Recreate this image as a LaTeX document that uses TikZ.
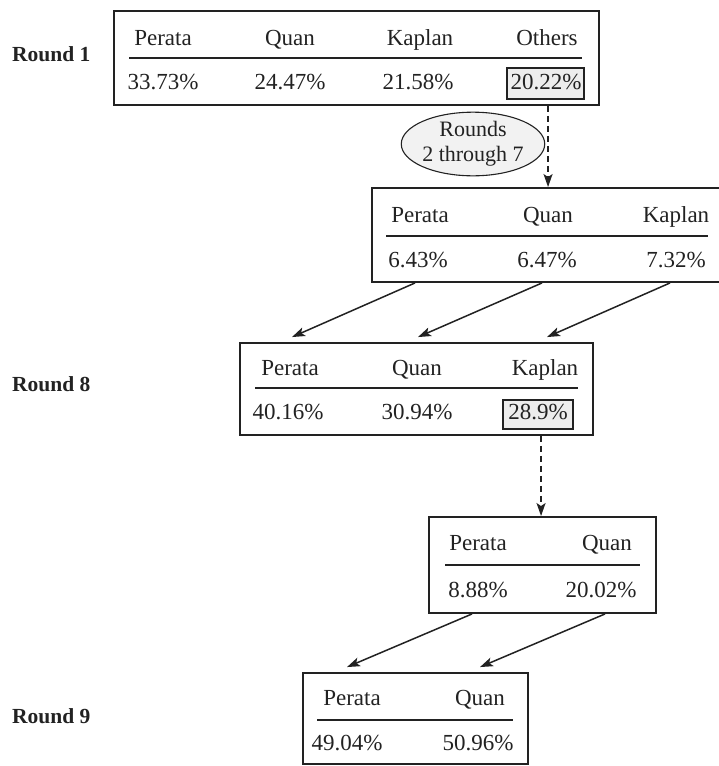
\documentclass[tikz,border=0pt]{standalone}
\usepackage{fontspec}
\setmainfont{Liberation Serif}
\usetikzlibrary{arrows.meta,shapes.geometric,calc}
\definecolor{ink}{HTML}{222222}
\tikzset{
  tbox/.style={draw=ink,line width=1.9pt,rectangle,inner sep=0pt},
  hdr/.style={draw=ink,line width=1.5pt},
  txt/.style={anchor=base,inner sep=0pt,font=\fontsize{23}{26}\selectfont,text=ink},
  rlabel/.style={anchor=base west,inner sep=0pt,font=\fontsize{21.5}{24}\selectfont\bfseries,text=ink},
  hl/.style={draw=ink,line width=1.3pt,fill=gray!14,rectangle,inner sep=0pt},
  arr/.style={draw=ink,line width=1.5pt,-{Stealth[length=13pt,width=9pt,inset=3pt]}},
  darr/.style={arr,dash pattern=on 6pt off 4pt},
  oval/.style={draw=ink,line width=1.1pt,ellipse,fill=gray!10,inner sep=0pt,
    minimum width=120pt,minimum height=62pt,align=center,
    font=\fontsize{22}{25}\selectfont,text=ink}
}
\begin{document}
\begin{tikzpicture}[x=1pt,y=-1pt]
\useasboundingbox (0,0) rectangle (719,766);
% boxes
\node[tbox,minimum width=485pt,minimum height=94pt] (b1) at (356.5,58) {};
\node[tbox,minimum width=378pt,minimum height=94pt] (b2) at (561,235) {};
\node[tbox,minimum width=353pt,minimum height=92pt] (b3) at (416.5,389) {};
\node[tbox,minimum width=227pt,minimum height=96pt] (b4) at (542.5,565) {};
\node[tbox,minimum width=225pt,minimum height=91pt] (b5) at (415.5,718.5) {};
% highlight boxes
\node[hl,minimum width=77pt,minimum height=31pt] (h1) at (545.5,83.5) {};
\node[hl,minimum width=70pt,minimum height=29pt] (h3) at (538,414.5) {};
% header rules
\draw[hdr] (129,58) -- (582,58);
\draw[hdr] (386,236) -- (708,236);
\draw[hdr] (255,388) -- (578,388);
\draw[hdr] (445,565) -- (640,565);
\draw[hdr] (317,720) -- (513,720);
% round labels
\node[rlabel] (r1) at (12,61) {Round 1};
\node[rlabel] (r8) at (12,391) {Round 8};
\node[rlabel] (r9) at (12,723) {Round 9};
% box 1
\node[txt] (n1a) at (163,45) {Perata};
\node[txt] (n1b) at (290,45) {Quan};
\node[txt] (n1c) at (420,45) {Kaplan};
\node[txt] (n1d) at (547,45) {Others};
\node[txt] (p1a) at (163,89) {33.73\%};
\node[txt] (p1b) at (290,89) {24.47\%};
\node[txt] (p1c) at (418,89) {21.58\%};
\node[txt] (p1d) at (546,89) {20.22\%};
% box 2
\node[txt] (n2a) at (420,222) {Perata};
\node[txt] (n2b) at (548,222) {Quan};
\node[txt] (n2c) at (676,222) {Kaplan};
\node[txt] (p2a) at (418,267) {6.43\%};
\node[txt] (p2b) at (547,267) {6.47\%};
\node[txt] (p2c) at (676,267) {7.32\%};
% box 3
\node[txt] (n3a) at (290,375) {Perata};
\node[txt] (n3b) at (417,375) {Quan};
\node[txt] (n3c) at (545,375) {Kaplan};
\node[txt] (p3a) at (288,419) {40.16\%};
\node[txt] (p3b) at (417,419) {30.94\%};
\node[txt] (p3c) at (538,419) {28.9\%};
% box 4
\node[txt] (n4a) at (478,550) {Perata};
\node[txt] (n4b) at (607,550) {Quan};
\node[txt] (p4a) at (478,597) {8.88\%};
\node[txt] (p4b) at (601,597) {20.02\%};
% box 5
\node[txt] (n5a) at (352,705) {Perata};
\node[txt] (n5b) at (480,705) {Quan};
\node[txt] (p5a) at (347,750) {49.04\%};
\node[txt] (p5b) at (478,750) {50.96\%};
% ellipse
\node[oval] (ov) at (473,144) {Rounds\\2 through 7};
% connectors
\coordinate (d1) at ($(b1.south west)+(435,0)$);
\draw[darr] (d1) -- (d1 |- b2.north);
\coordinate (d2) at ($(b3.south west)+(302,0)$);
\draw[darr] (d2) -- (d2 |- b4.north);
\draw[arr] ($(p2a |- b2.south)+(-3,0)$) -- ($(n3a |- b3.north)+(2,-5)$);
\draw[arr] ($(p2b |- b2.south)+(-5,0)$) -- ($(n3b |- b3.north)+(1,-5)$);
\draw[arr] ($(p2c |- b2.south)+(-6,0)$) -- ($(n3c |- b3.north)+(2,-5)$);
\draw[arr] ($(p4a |- b4.south)+(-6,0)$) -- ($(n5a |- b5.north)+(-5,-5)$);
\draw[arr] ($(p4b |- b4.south)+(4,0)$) -- ($(n5b |- b5.north)+(0,-5)$);
\end{tikzpicture}
\end{document}
